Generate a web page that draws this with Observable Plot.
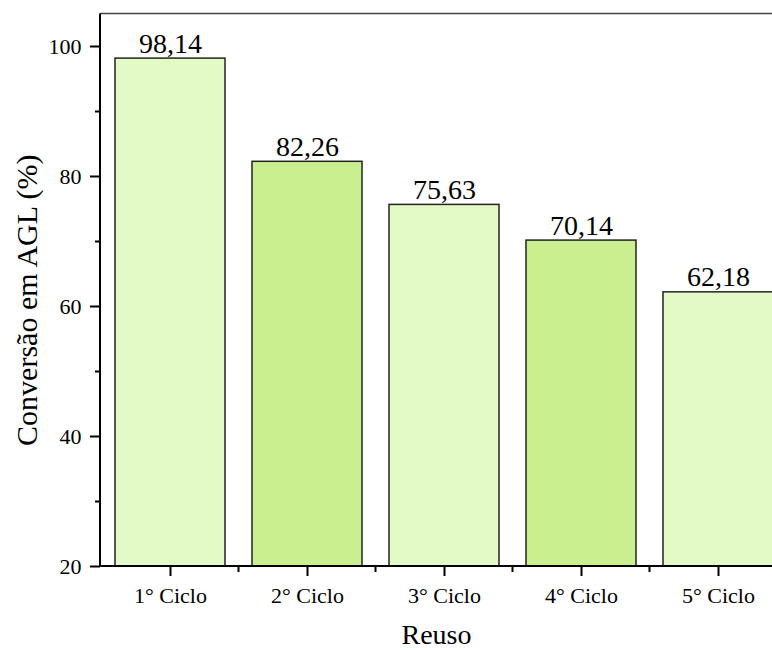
<!DOCTYPE html>
<html>
<head>
<meta charset="utf-8">
<script src="https://cdn.jsdelivr.net/npm/d3@7"></script>
<script src="https://cdn.jsdelivr.net/npm/@observablehq/plot@0.6"></script>
<style>
  body { margin: 0; background: #fff; }
  #chart svg { display: block; }
</style>
</head>
<body>
<div id="chart"></div>
<script>
const ciclos = ["1° Ciclo", "2° Ciclo", "3° Ciclo", "4° Ciclo", "5° Ciclo"];
const conversao = [98.14, 82.26, 75.63, 70.14, 62.18];
const yMajorTicks = [20, 40, 60, 80, 100];
const yMinorTicks = [30, 50, 70, 90];
const yLabel = "Conversão em AGL (%)";
const xLabel = "Reuso";

const data = ciclos.map((c, i) => ({ciclo: c, valor: conversao[i], idx: i}));
const light = "#e4fac6";
const dark = "#c9ef8e";
const fmt = v => v.toFixed(2).replace(".", ",");

// custom mark: axis lines + minor x ticks (between categories)
function axisLines(index, scales, values, dims) {
  const g = d3.create("svg:g");
  const x = scales.x, y = scales.y;
  const bw = x.bandwidth(), step = x.step();
  const x0 = dims.marginLeft;
  const yBottom = y(20), yTop = y(105);
  g.append("line").attr("x1", x0).attr("x2", dims.width).attr("y1", yTop).attr("y2", yTop)
    .attr("stroke", "#444").attr("stroke-width", 1.5);
  for (let i = 0; i < ciclos.length - 1; i++) {
    const bx = x(ciclos[i]) + bw / 2 + step / 2;
    g.append("line").attr("x1", bx).attr("x2", bx).attr("y1", yBottom).attr("y2", yBottom + 6)
      .attr("stroke", "#000").attr("stroke-width", 2);
  }
  g.append("line").attr("x1", x0).attr("x2", dims.width).attr("y1", yBottom).attr("y2", yBottom)
    .attr("stroke", "#000").attr("stroke-width", 2);
  g.append("line").attr("x1", x0).attr("x2", x0).attr("y1", yTop).attr("y2", yBottom + 1)
    .attr("stroke", "#000").attr("stroke-width", 2);
  return g.node();
}

const chart = Plot.plot({
  width: 772,
  height: 650,
  marginLeft: 100,
  marginTop: 13.5,
  marginBottom: 84,
  marginRight: 0,
  style: {fontFamily: "'Liberation Serif', 'Times New Roman', serif", color: "#000", background: "#fff"},
  x: {domain: ciclos, range: [100, 787], paddingInner: 0.2, paddingOuter: 0.1, align: 0.5},
  y: {domain: [20, 105], range: [566, 13.5]},
  marks: [
    Plot.barY(data, {
      x: "ciclo", y1: 20, y2: "valor",
      fill: d => d.idx % 2 ? dark : light,
      stroke: "#222", strokeWidth: 1.5
    }),
    Plot.text(data, {
      x: "ciclo", y: "valor", text: d => fmt(d.valor),
      dy: -6, lineAnchor: "bottom", fontSize: 28, fill: "#000"
    }),
    Plot.axisY({ticks: yMajorTicks, tickSize: 10, tickPadding: 9, fontSize: 22, strokeWidth: 2, label: null}),
    Plot.axisY({ticks: yMinorTicks, tickSize: 5, text: null, label: null, strokeWidth: 2}),
    Plot.axisX({tickSize: 10, tickPadding: 11, fontSize: 22, strokeWidth: 2,
      label: xLabel, labelAnchor: "center", labelArrow: "none", labelOffset: 77}),
    Plot.text([yLabel], {frameAnchor: "left", rotate: -90, dx: -73, dy: 10, textAnchor: "middle",
      lineAnchor: "middle", fontSize: 30, fill: "#000"}),
    axisLines
  ]
});
chart.querySelectorAll("g[aria-label='x-axis label'] text").forEach(t => t.setAttribute("font-size", 28));
document.getElementById("chart").append(chart);
</script>
</body>
</html>
